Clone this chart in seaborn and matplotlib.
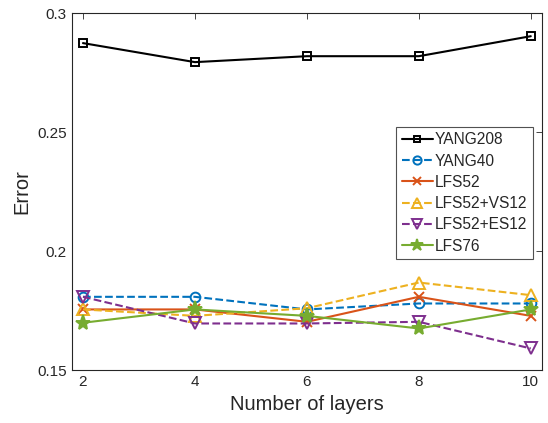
import matplotlib
matplotlib.use("Agg")
import matplotlib.pyplot as plt
import seaborn as sns
import pandas as pd

layers = [2, 4, 6, 8, 10]
yang208 = [0.2874, 0.2794, 0.2819, 0.2819, 0.2903]
yang40 = [0.1808, 0.1808, 0.1755, 0.1780, 0.1780]
lfs52 = [0.1755, 0.1755, 0.1703, 0.1808, 0.1728]
lfs52_vs12 = [0.1755, 0.1728, 0.1760, 0.1868, 0.1815]
lfs52_es12 = [0.1808, 0.1696, 0.1696, 0.1703, 0.1591]
lfs76 = [0.1699, 0.1755, 0.1728, 0.1675, 0.1755]

names = ["YANG208", "YANG40", "LFS52", "LFS52+VS12", "LFS52+ES12", "LFS76"]
series = [yang208, yang40, lfs52, lfs52_vs12, lfs52_es12, lfs76]
colors = ["#000000", "#0072BD", "#D95319", "#EDB120", "#7E2F8E", "#77AC30"]
markers = ["s", "o", "x", "^", "v", "*"]
styles = ["-", "--", "-", "--", "--", "-"]
msizes = [5.5, 7, 7.5, 8, 8, 11]
faces = ["none", "none", "none", "none", "none", None]

rows = []
for n, s in zip(names, series):
    for x, y in zip(layers, s):
        rows.append({"layers": x, "error": y, "series": n})
df = pd.DataFrame(rows)

sns.set_style("white")
plt.rcParams["font.family"] = ["Liberation Sans", "DejaVu Sans"]

fig = plt.figure(figsize=(5.48, 4.23), dpi=100)
ax = fig.add_axes([0.131, 0.125, 0.858, 0.844])

for n, c, m, ls, ms, fc in zip(names, colors, markers, styles, msizes, faces):
    sub = df[df["series"] == n]
    sns.lineplot(data=sub, x="layers", y="error", ax=ax, color=c, linestyle=ls,
                 marker=m, markersize=ms, markerfacecolor=fc if fc else c,
                 markeredgecolor=c, markeredgewidth=1.4, linewidth=1.5, label=n)

ax.set_xlim(1.8, 10.2)
ax.set_ylim(0.15, 0.3)
ax.set_xticks(layers)
ax.set_yticks([0.15, 0.2, 0.25, 0.3])
ax.set_yticklabels(["0.15", "0.2", "0.25", "0.3"])
ax.tick_params(direction="in", top=True, right=True, length=4, width=0.6,
               colors="#262626", labelsize=11)
for sp in ax.spines.values():
    sp.set_color("#262626")
    sp.set_linewidth(0.8)
ax.set_xlabel("Number of layers", fontsize=14.5, color="#262626")
ax.set_ylabel("Error", fontsize=14.5, color="#262626")

leg = ax.legend(loc="upper right", bbox_to_anchor=(0.981, 0.681), fontsize=11.2,
                frameon=True, fancybox=False, edgecolor="#262626",
                handlelength=2.0, labelspacing=0.4, borderpad=0.35,
                handletextpad=0.15, borderaxespad=0, markerscale=0.85)
leg.get_frame().set_linewidth(0.8)

fig.savefig("out.png", dpi=100)
